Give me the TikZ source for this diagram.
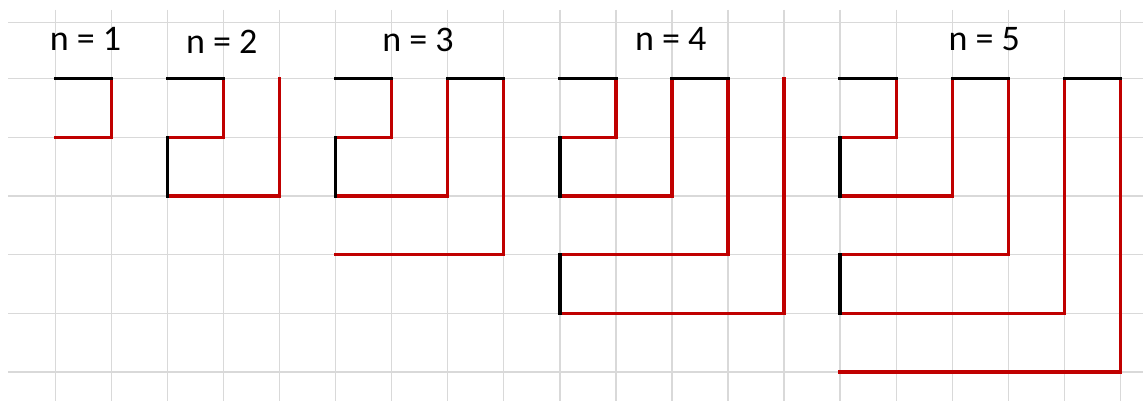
\documentclass[tikz,border=0pt]{standalone}
\usepackage{fontspec}
\setmainfont{Carlito}
\definecolor{gridgray}{HTML}{D9D9D9}
\definecolor{pathred}{HTML}{C00000}
\tikzset{
  gridline/.style={draw=gridgray, line width=1.4pt},
  blackseg/.style={draw=black, line width=3.4pt, line cap=rect, line join=miter},
  redseg/.style={draw=pathred, line width=3.4pt, line cap=rect, line join=miter},
  label/.style={inner sep=0pt, anchor=base, font=\fontsize{36}{40}\selectfont}
}
\begin{document}
\begin{tikzpicture}[x=1pt,y=-1pt]
\useasboundingbox (0,0) rectangle (1143,401);
% grid
\foreach \gy in {22.7,78.7,137.4,196.0,254.7,313.3,372.0}
  \draw[gridline] (8,\gy) -- (1143,\gy);
\foreach \i in {0,...,19}
  \draw[gridline] ({55.3+56.06*\i},10) -- ({55.3+56.06*\i},401);
% labels
\node[label] (l1) at (85.5,50.7) {n = 1};
\node[label] (l2) at (221.7,53.5) {n = 2};
\node[label] (l3) at (418,51.5) {n = 3};
\node[label] (l4) at (670.8,50.7) {n = 4};
\node[label] (l5) at (984.2,50.7) {n = 5};
\begin{scope}[shift={(55.3,78.7)}, x=56.06pt, y=-58.66pt]
% n = 1
\draw[redseg] (1,0) -- (1,1) -- (0,1);
\draw[blackseg] (0,0) -- (1,0);
% n = 2
\draw[redseg] (3,0) -- (3,1) -- (2,1);
\draw[redseg] (2,2) -- (4,2) -- (4,0);
\draw[blackseg] (2,0) -- (3,0);
\draw[blackseg] (2,1) -- (2,2);
% n = 3
\draw[redseg] (6,0) -- (6,1) -- (5,1);
\draw[redseg] (5,2) -- (7,2) -- (7,0);
\draw[redseg] (8,0) -- (8,3) -- (5,3);
\draw[blackseg] (5,0) -- (6,0);
\draw[blackseg] (5,1) -- (5,2);
\draw[blackseg] (7,0) -- (8,0);
% n = 4
\draw[redseg] (10,0) -- (10,1) -- (9,1);
\draw[redseg] (9,2) -- (11,2) -- (11,0);
\draw[redseg] (12,0) -- (12,3) -- (9,3);
\draw[redseg] (9,4) -- (13,4) -- (13,0);
\draw[blackseg] (9,0) -- (10,0);
\draw[blackseg] (9,1) -- (9,2);
\draw[blackseg] (11,0) -- (12,0);
\draw[blackseg] (9,3) -- (9,4);
% n = 5
\draw[redseg] (15,0) -- (15,1) -- (14,1);
\draw[redseg] (14,2) -- (16,2) -- (16,0);
\draw[redseg] (17,0) -- (17,3) -- (14,3);
\draw[redseg] (14,4) -- (18,4) -- (18,0);
\draw[redseg] (19,0) -- (19,5) -- (14,5);
\draw[blackseg] (14,0) -- (15,0);
\draw[blackseg] (14,1) -- (14,2);
\draw[blackseg] (16,0) -- (17,0);
\draw[blackseg] (14,3) -- (14,4);
\draw[blackseg] (18,0) -- (19,0);
\end{scope}
\end{tikzpicture}
\end{document}
